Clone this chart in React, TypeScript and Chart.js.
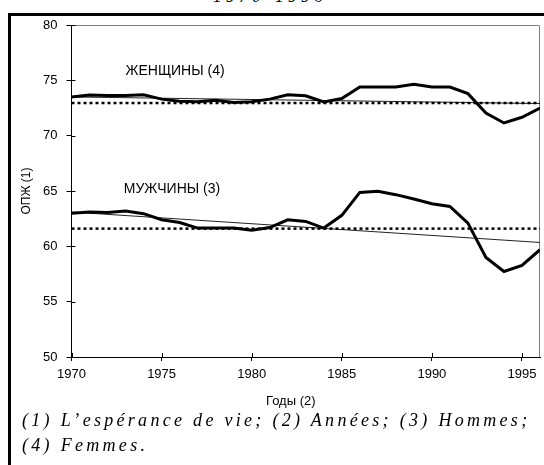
import React, { useEffect, useRef } from "react";
import { Chart, registerables } from "chart.js";

Chart.register(...registerables);

const years = [1970, 1971, 1972, 1973, 1974, 1975, 1976, 1977, 1978, 1979, 1980, 1981, 1982, 1983, 1984, 1985, 1986, 1987, 1988, 1989, 1990, 1991, 1992, 1993, 1994, 1995, 1996];
const women = [73.5, 73.68, 73.62, 73.62, 73.7, 73.3, 73.1, 73.07, 73.2, 73.0, 73.07, 73.3, 73.7, 73.6, 73.05, 73.35, 74.4, 74.4, 74.4, 74.64, 74.4, 74.4, 73.8, 72.05, 71.15, 71.66, 72.5];
const men = [63.0, 63.1, 63.05, 63.2, 62.95, 62.4, 62.15, 61.65, 61.65, 61.65, 61.45, 61.7, 62.4, 62.25, 61.65, 62.8, 64.87, 64.97, 64.67, 64.28, 63.85, 63.6, 62.1, 59.0, 57.73, 58.27, 59.7];
const trendYears = [1970, 1996];
const womenTrend = [73.5, 72.9];
const menTrend = [63.1, 60.35];
const womenLevel = 72.95;
const menLevel = 61.6;
const seriesLabels = ["ЖЕНЩИНЫ (4)", "МУЖЧИНЫ (3)"];
const labelAnchors = [
  { x: 1973, y: 75.8 },
  { x: 1972.9, y: 65.2 },
];
const yTitle = "ОПЖ (1)";
const xTitle = "Годы (2)";
const topText = "1970-1996";
const captionLines = ["(1) L’espérance de vie; (2) Années; (3) Hommes;", "(4) Femmes."];

const FONT = 'Arial, "Liberation Sans", sans-serif';

const decorPlugin = {
  id: "decor",
  beforeDatasetsDraw(chart: any) {
    const { ctx, chartArea } = chart;
    const { left, right, top, bottom } = chartArea;
    ctx.save();
    ctx.strokeStyle = "#808080";
    ctx.lineWidth = 1;
    ctx.beginPath();
    ctx.moveTo(left, top + 0.5);
    ctx.lineTo(right - 0.5, top + 0.5);
    ctx.lineTo(right - 0.5, bottom);
    ctx.stroke();
    // inner tick marks
    ctx.strokeStyle = "#000";
    const xs = chart.scales.x;
    const ys = chart.scales.y;
    ctx.beginPath();
    xs.ticks.forEach((t: any) => {
      const px = Math.round(xs.getPixelForValue(t.value)) + 0.5;
      ctx.moveTo(px, bottom);
      ctx.lineTo(px, bottom - 4);
    });
    ys.ticks.forEach((t: any) => {
      const py = Math.round(ys.getPixelForValue(t.value)) + 0.5;
      ctx.moveTo(left, py);
      ctx.lineTo(left + 4, py);
    });
    ctx.stroke();
    ctx.restore();
  },
  afterDraw(chart: any) {
    const { ctx, chartArea } = chart;
    const xs = chart.scales.x;
    const ys = chart.scales.y;
    ctx.save();
    ctx.fillStyle = "#000";
    ctx.font = `14px ${FONT}`;
    ctx.textBaseline = "middle";
    ctx.textAlign = "left";
    seriesLabels.forEach((lab, i) => {
      ctx.fillText(lab, xs.getPixelForValue(labelAnchors[i].x), ys.getPixelForValue(labelAnchors[i].y));
    });
    ctx.font = `13px ${FONT}`;
    ctx.textAlign = "center";
    ctx.fillText(xTitle, (chartArea.left + chartArea.right) / 2 - 15, chartArea.bottom + 44);
    ctx.restore();
  },
};

function App() {
  const ref = useRef<HTMLCanvasElement | null>(null);

  useEffect(() => {
    if (!ref.current) return;
    const pts = (vals: number[], xs: number[]) => vals.map((v, i) => ({ x: xs[i], y: v }));
    const chart = new Chart(ref.current, {
      type: "line",
      data: {
        datasets: [
          {
            label: "women",
            data: pts(women, years),
            borderColor: "#000",
            borderWidth: 3,
            pointRadius: 0,
            tension: 0,
            order: 0,
          },
          {
            label: "men",
            data: pts(men, years),
            borderColor: "#000",
            borderWidth: 3,
            pointRadius: 0,
            tension: 0,
            order: 0,
          },
          {
            label: "womenTrend",
            data: pts(womenTrend, trendYears),
            borderColor: "#222",
            borderWidth: 1,
            pointRadius: 0,
            order: 2,
          },
          {
            label: "menTrend",
            data: pts(menTrend, trendYears),
            borderColor: "#222",
            borderWidth: 1,
            pointRadius: 0,
            order: 2,
          },
          {
            label: "womenLevel",
            data: pts([womenLevel, womenLevel], trendYears),
            borderColor: "#000",
            borderWidth: 2.5,
            borderDash: [3, 3],
            pointRadius: 0,
            order: 1,
          },
          {
            label: "menLevel",
            data: pts([menLevel, menLevel], trendYears),
            borderColor: "#000",
            borderWidth: 2.5,
            borderDash: [3, 3],
            pointRadius: 0,
            order: 1,
          },
        ],
      },
      options: {
        animation: false,
        responsive: false,
        maintainAspectRatio: false,
        layout: { padding: { left: 0, right: 4, top: 25, bottom: 23 } },
        plugins: { legend: { display: false }, tooltip: { enabled: false }, title: { display: false } },
        scales: {
          x: {
            type: "linear",
            min: 1970,
            max: 1996,
            afterFit: (s: any) => {
              s.height = 30;
            },
            ticks: {
              stepSize: 5,
              includeBounds: false,
              color: "#000",
              font: { family: FONT, size: 13 },
              padding: 6,
              maxRotation: 0,
              callback: (v: any) => String(v),
            },
            grid: { drawOnChartArea: false, drawTicks: true, tickLength: 4, color: "#000" },
            border: { color: "#000", width: 1 },
          },
          y: {
            min: 50,
            max: 80,
            afterFit: (s: any) => {
              s.width = 71.5;
            },
            ticks: {
              stepSize: 5,
              color: "#000",
              font: { family: FONT, size: 13 },
              padding: 9,
            },
            grid: { drawOnChartArea: false, drawTicks: true, tickLength: 5, color: "#000" },
            border: { color: "#000", width: 1 },
            title: {
              display: true,
              text: yTitle,
              color: "#000",
              font: { family: FONT, size: 12 },
              padding: { top: 19, bottom: 0 },
            },
          },
        },
      },
      plugins: [decorPlugin],
    });
    return () => chart.destroy();
  }, []);

  const serif = '"Liberation Serif", "Times New Roman", serif';

  return (
    <div style={{ position: "relative", width: 544, height: 465, overflow: "hidden", background: "#fff" }}>
      <style>{`html,body{margin:0;overflow:hidden;}`}</style>
      <div
        style={{
          position: "absolute",
          left: 0,
          width: 540,
          top: -16,
          textAlign: "center",
          fontFamily: serif,
          fontStyle: "italic",
          fontSize: 18,
          lineHeight: "25px",
          letterSpacing: "4px",
        }}
      >
        {topText}
      </div>
      <div
        style={{
          position: "absolute",
          left: 8,
          top: 13,
          width: 700,
          height: 700,
          borderLeft: "3px solid #000",
          borderTop: "3px solid #000",
        }}
      />
      <canvas ref={ref} width={544} height={410} style={{ position: "absolute", left: 0, top: 0, width: 544, height: 410 }} />
      <div
        style={{
          position: "absolute",
          left: 22,
          top: 408,
          fontFamily: serif,
          fontStyle: "italic",
          fontSize: 18,
          lineHeight: "25px",
          letterSpacing: "3.3px",
          whiteSpace: "pre",
          color: "#000",
        }}
      >
        {captionLines.map((l, i) => (
          <div key={i}>{l}</div>
        ))}
      </div>
    </div>
  );
}

export default App;
